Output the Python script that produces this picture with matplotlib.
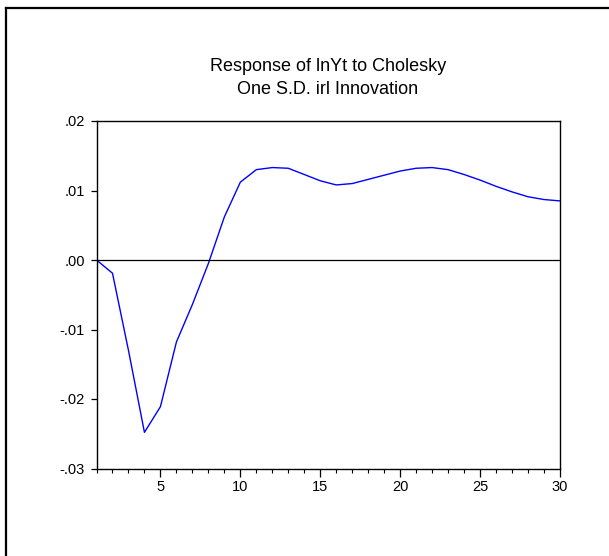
import matplotlib
matplotlib.use('Agg')
import matplotlib.pyplot as plt
from matplotlib.lines import Line2D

plt.rcParams['font.family'] = ['Liberation Sans', 'DejaVu Sans']

# Impulse response values (periods 1..30)
periods = list(range(1, 31))
response = [0.0000, -0.0019, -0.0130, -0.0248, -0.0211, -0.0118, -0.0064, -0.0005,
            0.0062, 0.0112, 0.0130, 0.0133, 0.0132, 0.0123, 0.0114, 0.0108,
            0.0110, 0.0116, 0.0122, 0.0128, 0.0132, 0.0133, 0.0130, 0.0123,
            0.0115, 0.0106, 0.0098, 0.0091, 0.0087, 0.0085]

y_ticks = [0.02, 0.01, 0.0, -0.01, -0.02, -0.03]
y_tick_labels = ['.02', '.01', '.00', '-.01', '-.02', '-.03']
x_ticks = [5, 10, 15, 20, 25, 30]
title_lines = ['Response of lnYt to Cholesky', 'One S.D. irl Innovation']

W, H = 609, 556
fig = plt.figure(figsize=(W / 100, H / 100), dpi=100)
ax = fig.add_axes([96.5 / W, 1 - 468.5 / H, (560 - 96.5) / W, (468.5 - 121) / H])

ax.plot(periods, response, color='#0000FF', linewidth=1.0)
ax.axhline(0, color='black', linewidth=0.9)

ax.set_xlim(1, 30)
ax.set_ylim(-0.03, 0.02)
ax.set_xticks(x_ticks)
ax.set_xticks(periods, minor=True)
ax.set_yticks(y_ticks)
ax.set_yticklabels(y_tick_labels)

ax.tick_params(axis='both', which='major', direction='out', labelsize=10.5,
               width=0.9, color='black')
ax.tick_params(axis='x', which='major', length=5.4, pad=3)
ax.tick_params(axis='y', which='major', length=4.3, pad=4)
ax.tick_params(axis='x', which='minor', length=3.2, width=0.8)
for s in ax.spines.values():
    s.set_linewidth(1.0)
    s.set_color('black')

fig.text(328 / W, 1 - 71 / H, title_lines[0], ha='center', va='baseline', fontsize=13)
fig.text(328 / W, 1 - 94.5 / H, title_lines[1], ha='center', va='baseline', fontsize=13)

# outer frame (left and top edges visible)
fig.add_artist(Line2D([6 / W, 6 / W], [0, 1 - 8 / H], transform=fig.transFigure,
                      color='black', linewidth=1.6))
fig.add_artist(Line2D([6 / W, 1], [1 - 8 / H, 1 - 8 / H], transform=fig.transFigure,
                      color='black', linewidth=1.6))

fig.savefig('out.png', dpi=100)
